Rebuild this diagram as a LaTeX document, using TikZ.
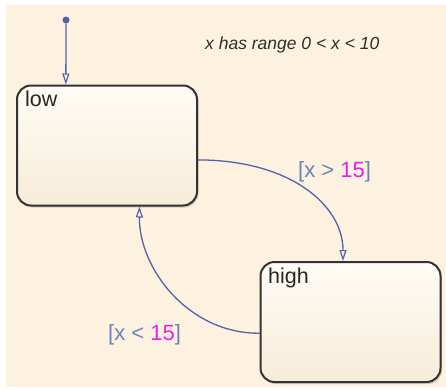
\documentclass[tikz,border=0pt]{standalone}
\usepackage{fontspec}
\setmainfont{Liberation Sans}
\usetikzlibrary{arrows.meta,shadows}
\definecolor{bgcream}{HTML}{FDF2E0}
\definecolor{trans}{HTML}{5561A8}
\definecolor{lblblue}{HTML}{6A84B8}
\definecolor{lblmag}{HTML}{F01CE8}
\definecolor{boxtop}{HTML}{FFFCF6}
\definecolor{boxbot}{HTML}{F6ECD9}
\begin{document}
\begin{tikzpicture}[x=1pt,y=-1pt,
  statebox/.style={draw=black!80, line width=2pt, rounded corners=14pt,
    top color=boxtop, bottom color=boxbot, minimum width=180pt, minimum height=120pt,
    inner sep=0pt, drop shadow={shadow xshift=1.5pt, shadow yshift=-2pt, opacity=0.35}},
  statename/.style={font=\fontsize{21.5}{24}\selectfont, text=black!85, inner sep=0pt, anchor=north west},
  transline/.style={draw=trans, line width=1.3pt, -{Triangle[open, length=11pt, width=7pt, line width=1.2pt]}},
  guard/.style={font=\fontsize{22}{24}\selectfont, inner sep=0pt}
]
\useasboundingbox (0,0) rectangle (446,389);
\fill[white] (0,0) rectangle (446,389);
\fill[bgcream] (6,5) rectangle (446,387);

\node[statebox] (low) at (107,145.5) {};
\node[statename] (lowname) at (25,91) {low};
\node[statebox] (high) at (350.5,322) {};
\node[statename] (highname) at (268,268) {high};

\node[circle, fill=trans, inner sep=0pt, minimum size=7pt] (init) at (66,20) {};
\draw[transline] (init) -- (low.124);

\draw[transline] (low.-9.5) .. controls (290,160) and (343,205) .. (high.97);
\draw[transline] (high.187.6) .. controls (190,334) and (139,270) .. (low.-62);

\node[guard, anchor=west] (g1) at (298,172) {\textcolor{lblblue}{[x > }\textcolor{lblmag}{15}\textcolor{lblblue}{]}};
\node[guard, anchor=west] (g2) at (108,335) {\textcolor{lblblue}{[x < }\textcolor{lblmag}{15}\textcolor{lblblue}{]}};

\node[font=\itshape\fontsize{17.5}{19}\selectfont, text=black!82, inner sep=0pt, anchor=west] (note) at (205,45) {x has range 0 < x < 10};
\end{tikzpicture}
\end{document}
